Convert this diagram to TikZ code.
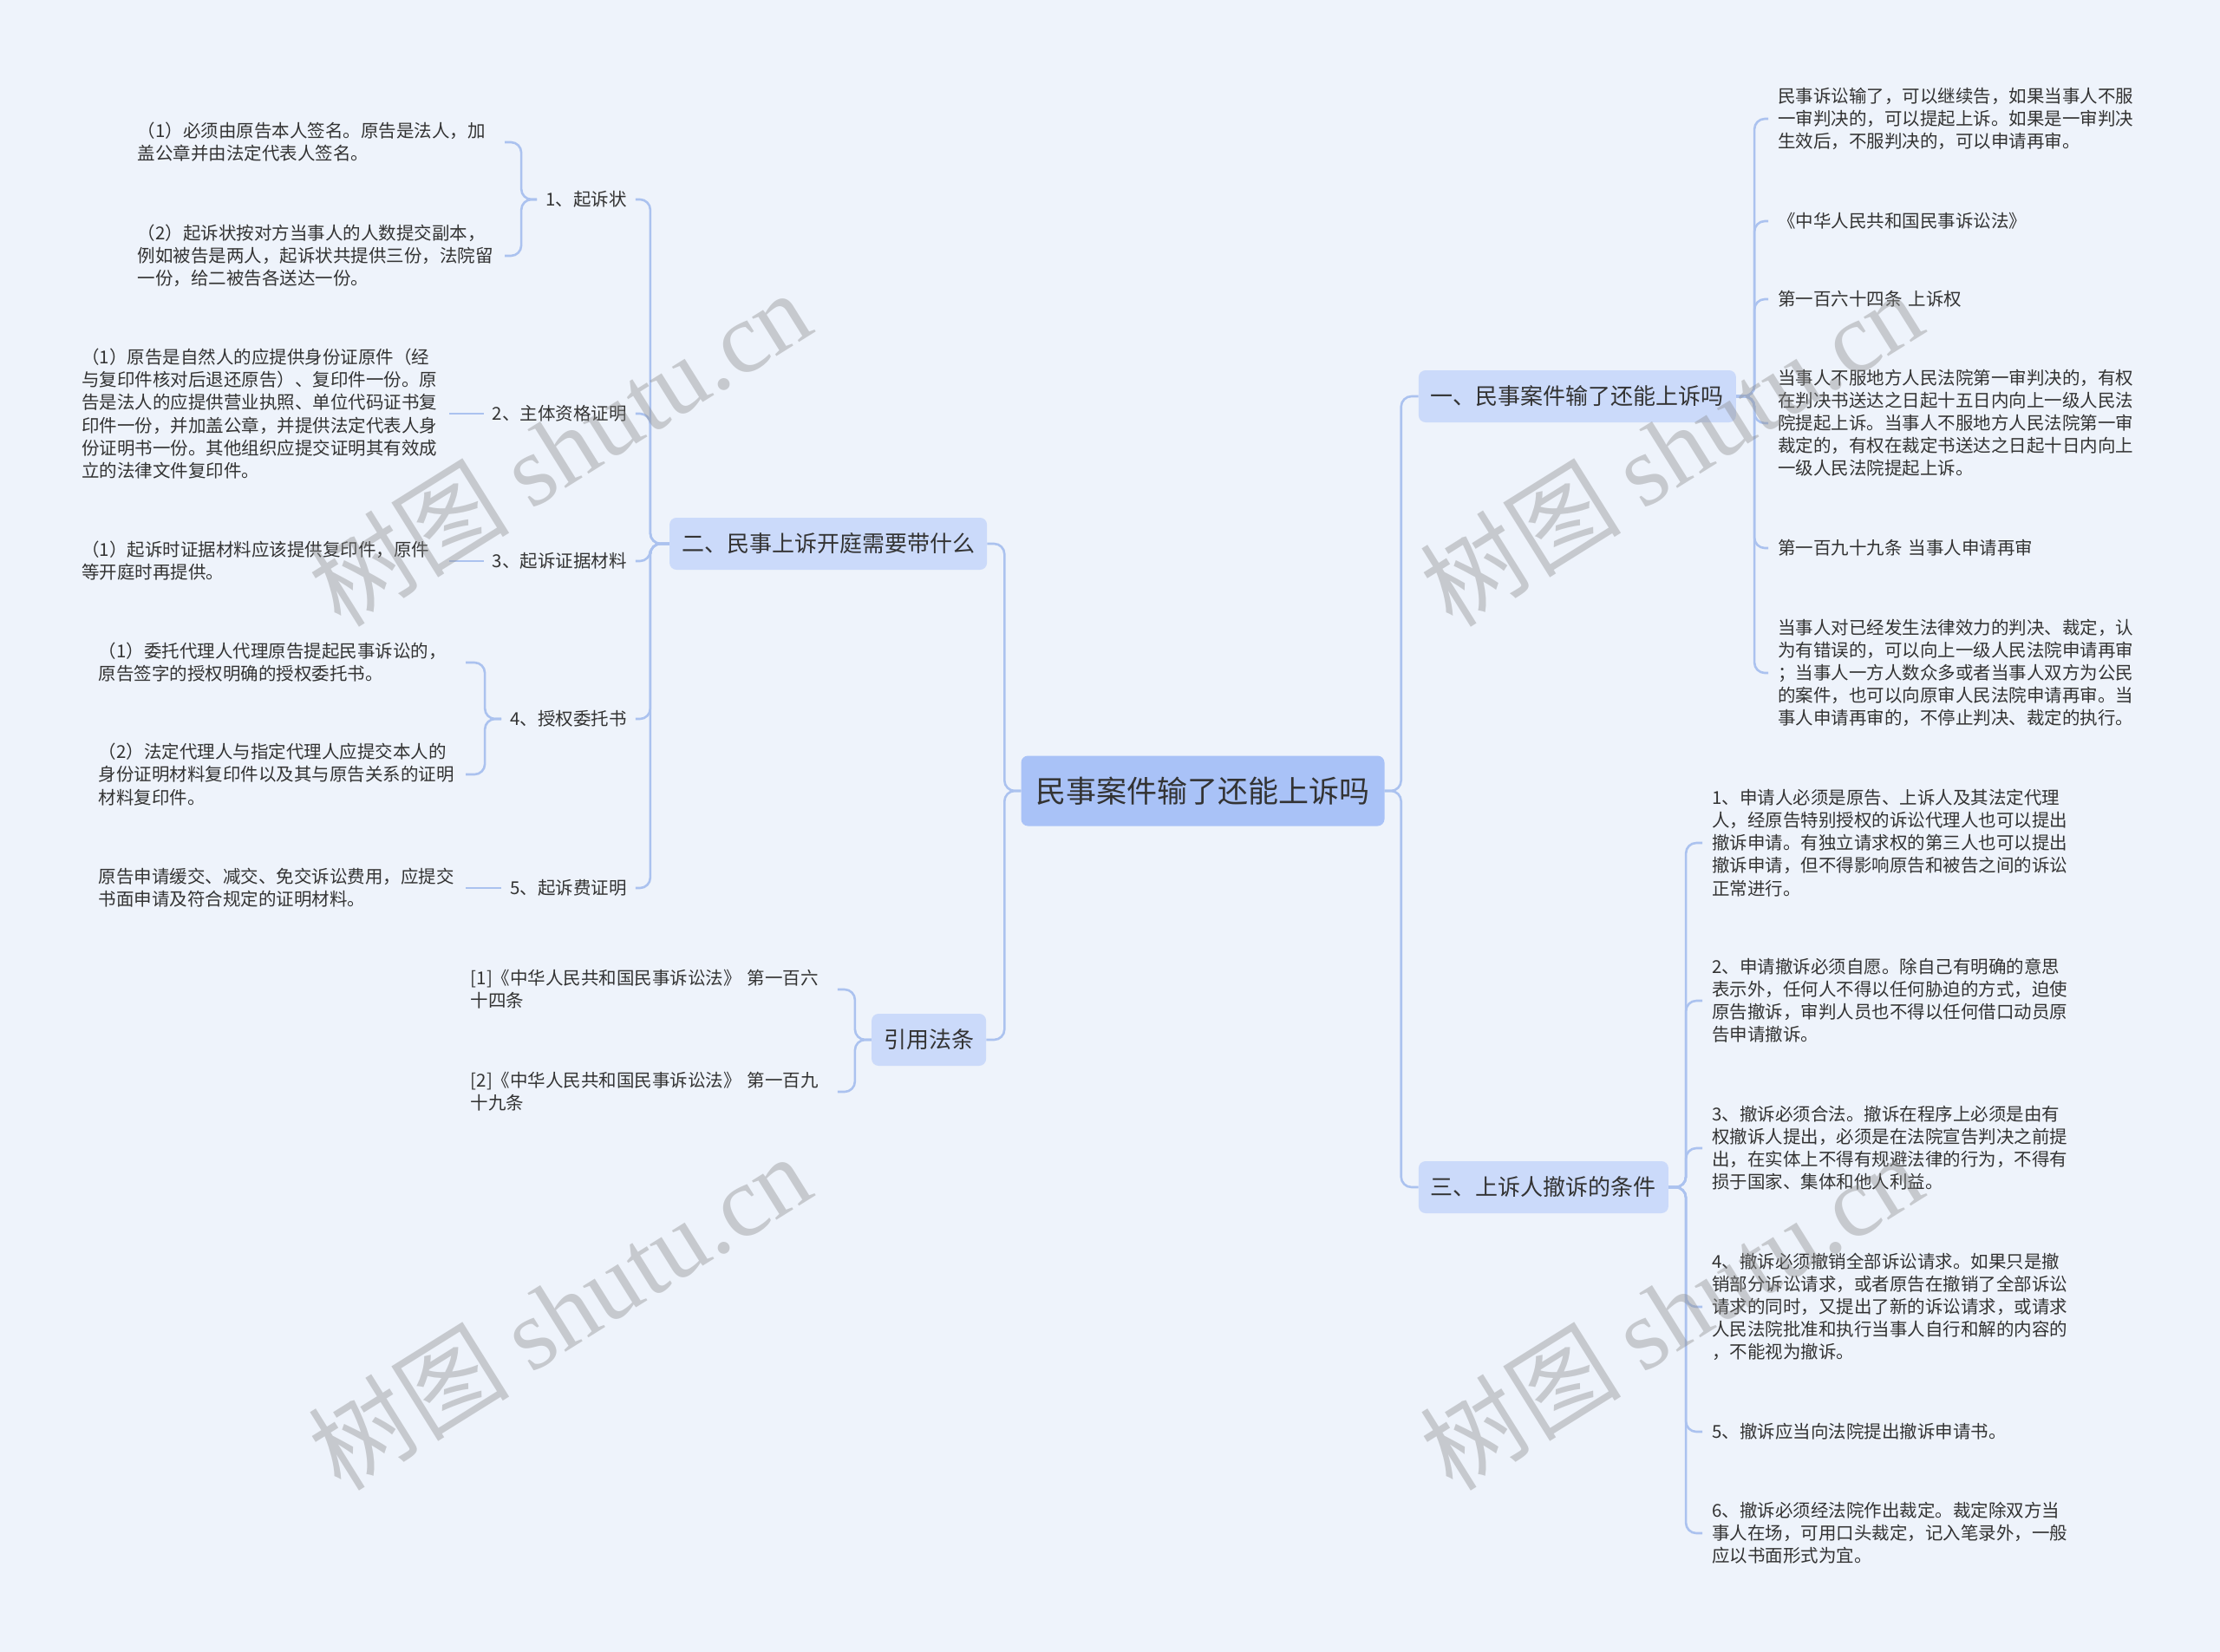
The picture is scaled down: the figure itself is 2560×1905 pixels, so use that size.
\documentclass[tikz,border=0pt]{standalone}
\usepackage{fontspec}
\setmainfont{Noto Sans CJK SC}
\newfontfamily\wmserif{Liberation Serif}
\usetikzlibrary{positioning}
\definecolor{cbg}{HTML}{EEF3FB}
\definecolor{croot}{HTML}{A9C2F7}
\definecolor{csub}{HTML}{CBDAFA}
\definecolor{cline}{HTML}{ABC2EF}
\definecolor{ctext}{HTML}{333333}

\begin{document}
\begin{tikzpicture}[x=1pt, y=1pt,
  root/.style={fill=croot, rounded corners=8pt, inner xsep=17pt, minimum height=81pt, text=ctext, font=\fontsize{35}{42}\selectfont},
  sub/.style={fill=csub, rounded corners=8pt, inner xsep=14pt, minimum height=60pt, text=ctext, font=\fontsize{26}{32}\selectfont},
  lbl/.style={inner xsep=10pt, inner ysep=2pt, text=ctext, font=\fontsize{20.5}{26}\selectfont},
  leaf/.style={align=left, text width=412pt, inner xsep=11pt, inner ysep=2pt, text=ctext, font=\fontsize{20.5}{26.1}\selectfont},
  link/.style={draw=cline, line width=2.6pt, rounded corners=12pt},
  wm/.style={rotate=32, text=black!45, opacity=0.4, font=\fontsize{116}{116}\selectfont}]
\fill[cbg] (0,0) rectangle (2560,-1905);
\useasboundingbox (0,0) rectangle (2560,-1905);

% centre and main branches
\node[root] (root) at (1387,-912) {民事案件输了还能上诉吗};
\node[sub, left=39pt of root, yshift=285pt] (two) {二、民事上诉开庭需要带什么};
\node[sub, left=40pt of root, yshift=-287pt] (cite) {引用法条};
\node[sub, right=39pt of root, yshift=455pt] (one) {一、民事案件输了还能上诉吗};
\node[sub, right=39pt of root, yshift=-457pt] (three) {三、上诉人撤诉的条件};

% left: what to bring
\node[lbl, left=39pt of two, yshift=397pt] (t1) {1、起诉状};
\node[lbl, left=39pt of two, yshift=150pt] (t2) {2、主体资格证明};
\node[lbl, left=39pt of two, yshift=-20pt] (t3) {3、起诉证据材料};
\node[lbl, left=39pt of two, yshift=-202pt] (t4) {4、授权委托书};
\node[lbl, left=39pt of two, yshift=-397pt] (t5) {5、起诉费证明};

\node[leaf, left=37pt of t1, yshift=66pt] (t1a) {（1）必须由原告本人签名。原告是法人，加\\盖公章并由法定代表人签名。};
\node[leaf, left=37pt of t1, yshift=-65pt] (t1b) {（2）起诉状按对方当事人的人数提交副本，\\例如被告是两人，起诉状共提供三份，法院留\\一份，给二被告各送达一份。};
\node[leaf, left=40pt of t2] (t2a) {（1）原告是自然人的应提供身份证原件（经\\与复印件核对后退还原告）、复印件一份。原\\告是法人的应提供营业执照、单位代码证书复\\印件一份，并加盖公章，并提供法定代表人身\\份证明书一份。其他组织应提交证明其有效成\\立的法律文件复印件。};
\node[leaf, left=40pt of t3] (t3a) {（1）起诉时证据材料应该提供复印件，原件\\等开庭时再提供。};
\node[leaf, left=41pt of t4, yshift=65pt] (t4a) {（1）委托代理人代理原告提起民事诉讼的，\\原告签字的授权明确的授权委托书。};
\node[leaf, left=41pt of t4, yshift=-64pt] (t4b) {（2）法定代理人与指定代理人应提交本人的\\身份证明材料复印件以及其与原告关系的证明\\材料复印件。};
\node[leaf, left=41pt of t5] (t5a) {原告申请缓交、减交、免交诉讼费用，应提交\\书面申请及符合规定的证明材料。};

% left: cited articles
\node[leaf, left=39pt of cite, yshift=58pt] (c1) {[1]《中华人民共和国民事诉讼法》 第一百六\\十四条};
\node[leaf, left=39pt of cite, yshift=-60pt] (c2) {[2]《中华人民共和国民事诉讼法》 第一百九\\十九条};

% right: can one appeal
\node[leaf, right=37pt of one, yshift=320pt] (r1) {民事诉讼输了，可以继续告，如果当事人不服\\一审判决的，可以提起上诉。如果是一审判决\\生效后，不服判决的，可以申请再审。};
\node[leaf, right=37pt of one, yshift=202pt] (r2) {《中华人民共和国民事诉讼法》};
\node[leaf, right=37pt of one, yshift=112pt] (r3) {第一百六十四条 上诉权};
\node[leaf, right=37pt of one, yshift=-31pt] (r4) {当事人不服地方人民法院第一审判决的，有权\\在判决书送达之日起十五日内向上一级人民法\\院提起上诉。当事人不服地方人民法院第一审\\裁定的，有权在裁定书送达之日起十日内向上\\一级人民法院提起上诉。};
\node[leaf, right=37pt of one, yshift=-175pt] (r5) {第一百九十九条 当事人申请再审};
\node[leaf, right=37pt of one, yshift=-319pt] (r6) {当事人对已经发生法律效力的判决、裁定，认\\为有错误的，可以向上一级人民法院申请再审\\；当事人一方人数众多或者当事人双方为公民\\的案件，也可以向原审人民法院申请再审。当\\事人申请再审的，不停止判决、裁定的执行。};

% right: withdrawal conditions
\node[leaf, right=39pt of three, yshift=397pt] (s1) {1、申请人必须是原告、上诉人及其法定代理\\人，经原告特别授权的诉讼代理人也可以提出\\撤诉申请。有独立请求权的第三人也可以提出\\撤诉申请，但不得影响原告和被告之间的诉讼\\正常进行。};
\node[leaf, right=39pt of three, yshift=215pt] (s2) {2、申请撤诉必须自愿。除自己有明确的意思\\表示外，任何人不得以任何胁迫的方式，迫使\\原告撤诉，审判人员也不得以任何借口动员原\\告申请撤诉。};
\node[leaf, right=39pt of three, yshift=45pt] (s3) {3、撤诉必须合法。撤诉在程序上必须是由有\\权撤诉人提出，必须是在法院宣告判决之前提\\出，在实体上不得有规避法律的行为，不得有\\损于国家、集体和他人利益。};
\node[leaf, right=39pt of three, yshift=-138pt] (s4) {4、撤诉必须撤销全部诉讼请求。如果只是撤\\销部分诉讼请求，或者原告在撤销了全部诉讼\\请求的同时，又提出了新的诉讼请求，或请求\\人民法院批准和执行当事人自行和解的内容的\\，不能视为撤诉。};
\node[leaf, right=39pt of three, yshift=-282pt] (s5) {5、撤诉应当向法院提出撤诉申请书。};
\node[leaf, right=39pt of three, yshift=-399pt] (s6) {6、撤诉必须经法院作出裁定。裁定除双方当\\事人在场，可用口头裁定，记入笔录外，一般\\应以书面形式为宜。};

% connectors
\draw[link] (root.west) -- ++(-19,0) |- (two.east);
\draw[link] (root.west) -- ++(-19,0) |- (cite.east);
\draw[link] (root.east) -- ++(19,0) |- (one.west);
\draw[link] (root.east) -- ++(19,0) |- (three.west);
\foreach \i in {1,...,5} \draw[link] (two.west) -- ++(-22,0) |- (t\i.east);
\foreach \n in {t1a,t1b} \draw[link] (t1.west) -- ++(-18,0) |- (\n.east);
\foreach \n in {t4a,t4b} \draw[link] (t4.west) -- ++(-19,0) |- (\n.east);
\draw[link] (t2.west) -- (t2a.east);
\draw[link] (t3.west) -- (t3a.east);
\draw[link] (t5.west) -- (t5a.east);
\foreach \n in {c1,c2} \draw[link] (cite.west) -- ++(-19,0) |- (\n.east);
\foreach \i in {1,...,6} \draw[link] (one.east) -- ++(21,0) |- (r\i.west);
\foreach \i in {1,...,6} \draw[link] (three.east) -- ++(20,0) |- (s\i.west);

% watermark
\foreach \p [count=\k] in {(645,-516),(645,-1512),(1927,-516),(1927,-1512)}
  \node[wm] (wm\k) at \p {树图 {\wmserif shutu.cn}};
\end{tikzpicture}
\end{document}
